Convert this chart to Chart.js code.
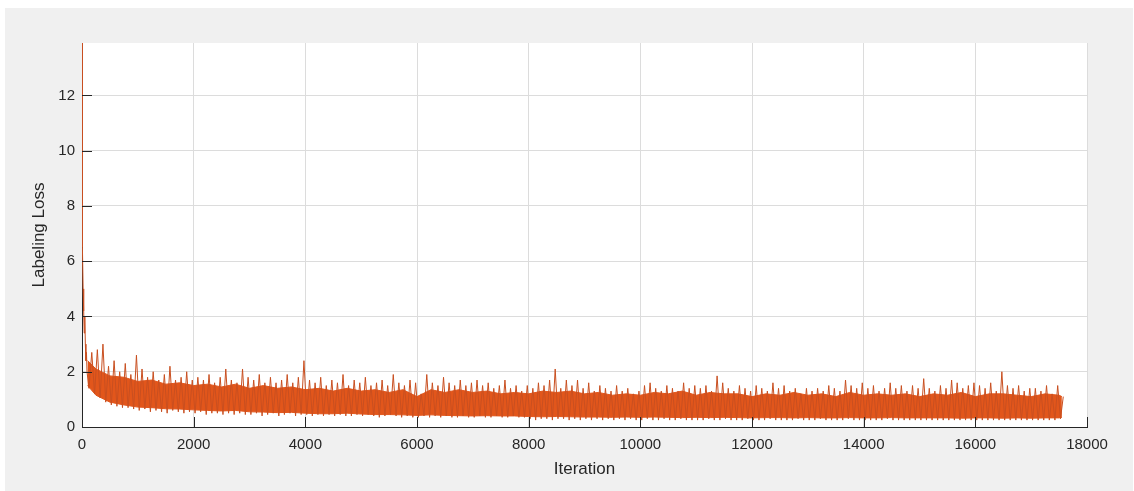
<!DOCTYPE html>
<html>
<head>
<meta charset="utf-8">
<script src="https://cdn.jsdelivr.net/npm/chart.js@4.4.1/dist/chart.umd.min.js"></script>
<style>
  html, body { margin: 0; padding: 0; background: #ffffff; }
  #wrap { width: 1134px; height: 491px; }
</style>
</head>
<body>
<div id="wrap"><canvas id="lossChart" width="1134" height="491"></canvas></div>
<script>
// first iterations: the loss falls off very fast
const headIters = [0, 5, 10, 20, 30, 40, 50, 60, 70, 80, 90];
const headLoss = [13.9, 9.5, 6.5, 5.0, 4.2, 3.4, 4.0, 3.0, 2.4, 2.7, 2.0];

// dense part of the noisy band (lower / upper edge), read every 250 iterations
const coreIters = [100, 250, 500, 750, 1000, 1250, 1500, 1750, 2000, 2250, 2500, 2750,
  3000, 3250, 3500, 3750, 4000, 4250, 4500, 4750, 5000, 5250, 5500, 5750,
  6000, 6250, 6500, 6750, 7000, 7250, 7500, 7750, 8000, 8250, 8500, 8750,
  9000, 9250, 9500, 9750, 10000, 10250, 10500, 10750, 11000, 11250, 11500, 11750,
  12000, 12250, 12500, 12750, 13000, 13250, 13500, 13750, 14000, 14250, 14500, 14750,
  15000, 15250, 15500, 15750, 16000, 16250, 16500, 16750, 17000, 17250, 17500, 17550];
const coreTop = [2.4, 2.1, 1.85, 1.8, 1.65, 1.7, 1.55, 1.6, 1.5, 1.55, 1.45, 1.55,
  1.4, 1.5, 1.4, 1.45, 1.35, 1.4, 1.3, 1.4, 1.3, 1.35, 1.25, 1.35,
  1.1, 1.35, 1.25, 1.35, 1.25, 1.3, 1.2, 1.25, 1.2, 1.3, 1.25, 1.3,
  1.2, 1.25, 1.15, 1.2, 1.15, 1.25, 1.2, 1.3, 1.15, 1.25, 1.2, 1.2,
  1.1, 1.2, 1.15, 1.25, 1.15, 1.2, 1.1, 1.25, 1.15, 1.2, 1.15, 1.2,
  1.1, 1.2, 1.15, 1.25, 1.1, 1.2, 1.2, 1.15, 1.1, 1.2, 1.15, 1.1];
const coreLow = [1.5, 1.15, 0.9, 0.8, 0.72, 0.7, 0.66, 0.65, 0.62, 0.6, 0.58, 0.6,
  0.55, 0.54, 0.52, 0.53, 0.5, 0.48, 0.48, 0.5, 0.47, 0.45, 0.45, 0.44,
  0.42, 0.44, 0.42, 0.41, 0.4, 0.41, 0.4, 0.4, 0.38, 0.37, 0.38, 0.37,
  0.36, 0.36, 0.35, 0.36, 0.35, 0.36, 0.35, 0.34, 0.35, 0.34, 0.35, 0.34,
  0.33, 0.34, 0.34, 0.33, 0.34, 0.33, 0.33, 0.34, 0.33, 0.33, 0.34, 0.33,
  0.33, 0.33, 0.33, 0.32, 0.33, 0.33, 0.32, 0.33, 0.32, 0.33, 0.33, 0.35];

// spikes: one low and one high reading per block of 100 iterations
const binStart = 100;
const binSize = 100;
const binLow = [
  1.4, 1.2, 1.05, 0.9, 0.8, 0.75, 0.7, 0.7, 0.65,
  0.6, 0.65, 0.55, 0.6, 0.55, 0.5, 0.6, 0.55, 0.5, 0.55,
  0.5, 0.55, 0.45, 0.5, 0.5, 0.45, 0.5, 0.45, 0.5, 0.45,
  0.45, 0.5, 0.4, 0.45, 0.5, 0.4, 0.45, 0.5, 0.4, 0.45,
  0.45, 0.4, 0.45, 0.4, 0.45, 0.4, 0.45, 0.4, 0.4, 0.45,
  0.4, 0.45, 0.4, 0.35, 0.4, 0.45, 0.4, 0.35, 0.4, 0.35,
  0.35, 0.4, 0.35, 0.4, 0.35, 0.4, 0.35, 0.35, 0.4, 0.35,
  0.35, 0.4, 0.35, 0.35, 0.4, 0.35, 0.35, 0.4, 0.35, 0.35,
  0.3, 0.25, 0.3, 0.3, 0.25, 0.3, 0.3, 0.25, 0.3, 0.25,
  0.3, 0.25, 0.3, 0.25, 0.3, 0.25, 0.3, 0.25, 0.3, 0.25,
  0.25, 0.3, 0.25, 0.25, 0.3, 0.25, 0.25, 0.3, 0.25, 0.25,
  0.25, 0.25, 0.3, 0.25, 0.25, 0.3, 0.25, 0.25, 0.25, 0.3,
  0.25, 0.25, 0.25, 0.3, 0.25, 0.25, 0.25, 0.25, 0.3, 0.25,
  0.25, 0.25, 0.3, 0.25, 0.25, 0.25, 0.25, 0.3, 0.25, 0.25,
  0.25, 0.25, 0.25, 0.25, 0.3, 0.25, 0.25, 0.25, 0.25, 0.25,
  0.25, 0.25, 0.25, 0.25, 0.25, 0.25, 0.25, 0.25, 0.25, 0.25,
  0.25, 0.25, 0.25, 0.25, 0.25, 0.25, 0.25, 0.25, 0.25, 0.25,
  0.25, 0.25, 0.25, 0.25, 0.25, 0.3
];
const binHigh = [
  2.7, 2.8, 3.0, 2.2, 2.4, 2.0, 2.3, 1.9, 2.6,
  2.1, 1.8, 2.0, 1.7, 1.9, 2.2, 1.7, 1.8, 2.0, 1.7,
  1.8, 1.7, 1.9, 1.6, 1.8, 2.1, 1.7, 1.6, 2.1, 1.8,
  1.7, 1.9, 1.6, 1.8, 1.6, 1.7, 1.9, 1.6, 1.8, 2.4,
  1.7, 1.6, 1.8, 1.5, 1.7, 1.6, 1.9, 1.5, 1.7, 1.6,
  1.8, 1.5, 1.6, 1.7, 1.5, 1.9, 1.6, 1.5, 1.7, 1.6,
  1.2, 1.9, 1.6, 1.5, 1.8, 1.6, 1.5, 1.7, 1.5, 1.6,
  1.7, 1.5, 1.6, 1.4, 1.5, 1.7, 1.4, 1.5, 1.3, 1.5,
  1.4, 1.6, 1.5, 1.7, 2.1, 1.4, 1.7, 1.5, 1.7, 1.4,
  1.6, 1.3, 1.5, 1.4, 1.3, 1.5, 1.3, 1.4, 1.2, 1.3,
  1.5, 1.6, 1.4, 1.3, 1.5, 1.4, 1.3, 1.6, 1.4, 1.5,
  1.4, 1.5, 1.3, 1.85, 1.6, 1.4, 1.3, 1.5, 1.4, 1.3,
  1.5, 1.4, 1.3, 1.6, 1.4, 1.5, 1.3, 1.4, 1.2, 1.4,
  1.3, 1.4, 1.3, 1.5, 1.4, 1.3, 1.7, 1.5, 1.4, 1.6,
  1.4, 1.5, 1.3, 1.4, 1.6, 1.4, 1.5, 1.3, 1.5, 1.4,
  1.75, 1.4, 1.3, 1.5, 1.4, 1.7, 1.6, 1.4, 1.5, 1.6,
  1.5, 1.4, 1.6, 1.3, 2.0, 1.5, 1.4, 1.5, 1.3, 1.4,
  1.4, 1.3, 1.5, 1.2, 1.5, 1.1
];

const xTicks = [0, 2000, 4000, 6000, 8000, 10000, 12000, 14000, 16000, 18000];
const yTicks = [0, 2, 4, 6, 8, 10, 12];

// build the {x, y} series
const puntos = headIters.map((it, i) => ({ x: it, y: headLoss[i] }));
binLow.forEach((lo, i) => {
    const base = binStart + i * binSize;
    puntos.push({ x: base + 25, y: lo });
    puntos.push({ x: base + 75, y: binHigh[i] });
});
const bandaArriba = coreIters.map((it, i) => ({ x: it, y: coreTop[i] }));
const bandaAbajo = coreIters.map((it, i) => ({ x: it, y: coreLow[i] }));

const naranja = '#e2561b';
const naranjaOscuro = '#c94f20';
const axisColor = '#262626';
const fuente = "'Liberation Sans', Arial, Helvetica, sans-serif";

// gray figure, white axes, MATLAB style inward ticks
const marcoMatlab = {
    id: 'marcoMatlab',
    beforeDraw(chart) {
        const { ctx, chartArea: a } = chart;
        ctx.save();
        ctx.fillStyle = '#f0f0f0';
        ctx.fillRect(5, 8, 1128, 483);
        ctx.fillStyle = '#ffffff';
        ctx.fillRect(a.left, a.top, a.right - a.left, a.bottom - a.top);
        ctx.restore();
    },
    afterDraw(chart) {
        const { ctx, chartArea: a, scales } = chart;
        ctx.save();
        ctx.strokeStyle = axisColor;
        ctx.lineWidth = 1;
        ctx.beginPath();
        yTicks.forEach(v => {
            const py = Math.round(scales.y.getPixelForValue(v)) + 0.5;
            ctx.moveTo(a.left, py);
            ctx.lineTo(a.left + 10, py);
        });
        xTicks.forEach(v => {
            const px = Math.round(scales.x.getPixelForValue(v)) + 0.5;
            ctx.moveTo(px, a.bottom);
            ctx.lineTo(px, a.bottom - 10);
        });
        ctx.stroke();
        ctx.restore();
    }
};

const ctx = document.getElementById('lossChart').getContext('2d');

new Chart(ctx, {
    type: 'line',
    data: {
        datasets: [{
            label: 'Labeling Loss',
            data: puntos,
            borderColor: naranjaOscuro,
            borderWidth: 1,
            pointRadius: 0,
            tension: 0,
            fill: false
        }, {
            label: 'band top',
            data: bandaArriba,
            borderColor: naranja,
            backgroundColor: naranja,
            borderWidth: 1,
            pointRadius: 0,
            tension: 0,
            fill: '+1'
        }, {
            label: 'band bottom',
            data: bandaAbajo,
            borderColor: naranja,
            borderWidth: 1,
            pointRadius: 0,
            tension: 0,
            fill: false
        }]
    },
    options: {
        responsive: false,
        animation: false,
        layout: { padding: { left: 0, top: 43, right: 47, bottom: 0 } },
        plugins: {
            legend: { display: false },
            tooltip: { enabled: false }
        },
        scales: {
            x: {
                type: 'linear',
                min: 0,
                max: 18000,
                afterFit: s => { s.height = 64; },
                afterBuildTicks: s => { s.ticks = xTicks.map(v => ({ value: v })); },
                grid: { color: '#dcdcdc', drawTicks: false },
                border: { display: true, color: axisColor, width: 1 },
                ticks: {
                    padding: 9,
                    color: axisColor,
                    font: { family: fuente, size: 15 },
                    maxRotation: 0,
                    callback: v => String(v)
                },
                title: {
                    display: true,
                    text: 'Iteration',
                    color: axisColor,
                    font: { family: fuente, size: 17 },
                    padding: { top: 0, bottom: 11 }
                }
            },
            y: {
                min: 0,
                max: 13.9,
                afterFit: s => { s.width = 82; },
                afterBuildTicks: s => { s.ticks = yTicks.map(v => ({ value: v })); },
                grid: { color: '#dcdcdc', drawTicks: false },
                border: { display: true, color: axisColor, width: 1 },
                ticks: {
                    padding: 7,
                    color: axisColor,
                    font: { family: fuente, size: 15 },
                    callback: v => String(v)
                },
                title: {
                    display: true,
                    text: 'Labeling Loss',
                    color: axisColor,
                    font: { family: fuente, size: 17 },
                    padding: { top: 29, bottom: 0 }
                }
            }
        }
    },
    plugins: [marcoMatlab]
});
</script>
</body>
</html>
